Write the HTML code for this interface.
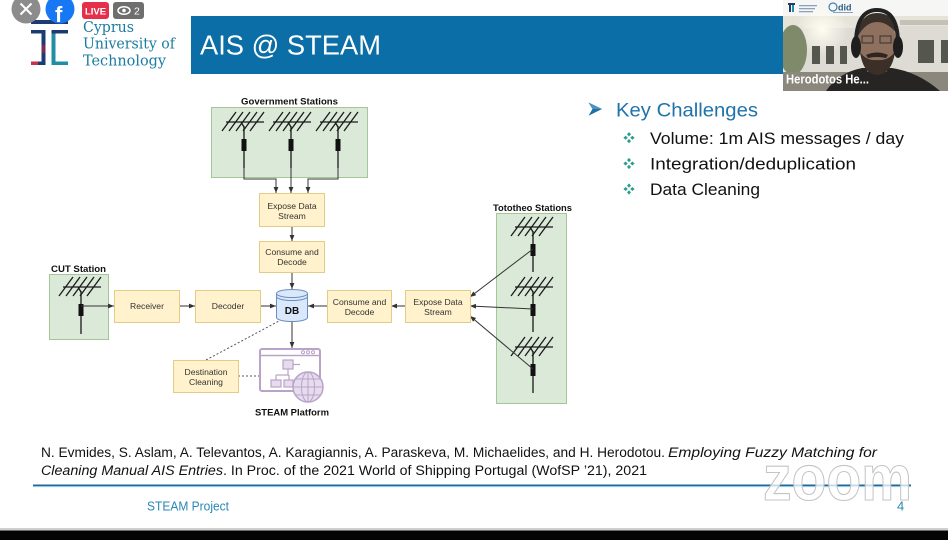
<!DOCTYPE html>
<html><head><meta charset="utf-8"><style>
html,body{margin:0;padding:0;background:#fff;}
body{width:948px;height:540px;overflow:hidden;}
svg{display:block;}
</style></head><body>
<svg width="948" height="540" viewBox="0 0 948 540" xmlns="http://www.w3.org/2000/svg" font-family="Liberation Sans, Arial, sans-serif">
<defs>
<marker id="ah" viewBox="0 0 10 10" refX="10" refY="5" markerWidth="6" markerHeight="6" markerUnits="userSpaceOnUse" orient="auto">
<path d="M0,1 L10,5 L0,9 z" fill="#333"/></marker>
<g id="ant">
<path d="M-18 0H20 M-22 9L-8 -10 M-15 9L-1 -10 M-8 9L6 -10 M-1 9L13 -10 M6 9L20 -10 M-3 0L0 5" stroke="#1a1a1a" stroke-width="1.3" fill="none"/>
<rect x="-2.5" y="17" width="5" height="12" fill="#111"/>
</g>
<g id="bul" fill="#2a9d8f">
<path d="M0,-5.6 L2,-3.4 L0,-1.2 L-2,-3.4z M0,5.6 L2,3.4 L0,1.2 L-2,3.4z M-5.6,0 L-3.4,-2 L-1.2,0 L-3.4,2z M5.6,0 L3.4,-2 L1.2,0 L3.4,2z"/>
</g>
<radialGradient id="sun" cx="0.5" cy="0.5" r="0.5"><stop offset="0" stop-color="#fffdf0"/><stop offset="1" stop-color="#fffdf0" stop-opacity="0"/></radialGradient>
<clipPath id="vclip"><rect x="783" y="0" width="165" height="91"/></clipPath>
</defs>

<!-- Logo -->
<g>
<rect x="31" y="20" width="37" height="4" fill="#1c3b73"/>
<rect x="31" y="30" width="14" height="3.5" fill="#1c3b73"/>
<rect x="41.5" y="30" width="4" height="35" fill="#1c3b73"/>
<rect x="31" y="61.5" width="14" height="3.5" fill="#c8324a"/>
<rect x="38" y="61.5" width="7" height="3.5" fill="#1c3b73"/>
<rect x="51.5" y="30" width="4" height="35" fill="#1f8fa6"/>
<rect x="51.5" y="30" width="16.5" height="3.5" fill="#1c3b73"/>
<rect x="51.5" y="61.5" width="16.5" height="3.5" fill="#1f8fa6"/>
<rect x="41.5" y="45" width="4" height="8" fill="#7a2b55"/>
</g>
<g font-family="DejaVu Serif, Liberation Serif, serif" fill="#1b7ba0" font-size="15">
<text x="83" y="32" textLength="51" lengthAdjust="spacingAndGlyphs">Cyprus</text>
<text x="83" y="48.5" textLength="92" lengthAdjust="spacingAndGlyphs">University of</text>
<text x="83" y="65.5" textLength="83" lengthAdjust="spacingAndGlyphs">Technology</text>
</g>

<!-- Title banner -->
<rect x="191" y="16" width="600" height="58" fill="#0b6ea6"/>
<text x="200" y="54.5" font-size="27.5" fill="#fff" textLength="181" lengthAdjust="spacingAndGlyphs">AIS @ STEAM</text>

<!-- Overlay icons -->
<circle cx="26" cy="9" r="14.5" fill="#8c8c8c"/>
<path d="M20.5 3.5 L31.5 14.5 M31.5 3.5 L20.5 14.5" stroke="#fff" stroke-width="2"/>
<circle cx="60" cy="9" r="14.5" fill="#1877f2"/>
<text x="55" y="22" font-size="22" font-weight="bold" fill="#fff">f</text>
<rect x="82" y="2" width="27" height="17" rx="3" fill="#e5304c"/>
<text x="95.5" y="14.5" font-size="9.5" font-weight="bold" fill="#fff" text-anchor="middle">LIVE</text>
<rect x="113" y="2" width="31" height="17" rx="3" fill="#6e6e6e"/>
<ellipse cx="124" cy="10.5" rx="6" ry="3.8" fill="none" stroke="#fff" stroke-width="1.5"/>
<circle cx="124" cy="10.5" r="1.8" fill="#fff"/>
<text x="134" y="14.5" font-size="10.5" fill="#fff">2</text>

<!-- Video -->
<g clip-path="url(#vclip)">
<rect x="783" y="0" width="165" height="91" fill="#e6e3d9"/>
<rect x="783" y="0" width="165" height="16" fill="#f6f6f4"/>
<rect x="800" y="26" width="148" height="48" fill="#dddbd4"/>
<path d="M800 28 L830 18 L860 28z" fill="#e8e6e0"/>
<rect x="900" y="20" width="48" height="5" fill="#c4c1b9"/>
<circle cx="822" cy="30" r="26" fill="url(#sun)"/>
<ellipse cx="793" cy="50" rx="14" ry="25" fill="#7f8a6a"/>
<rect x="812" y="46" width="8" height="18" fill="#55574f"/>
<rect x="826" y="46" width="8" height="18" fill="#55574f"/>
<rect x="840" y="46" width="7" height="18" fill="#55574f"/>
<rect x="918" y="40" width="16" height="23" fill="#55574f"/>
<rect x="941" y="40" width="8" height="23" fill="#55574f"/>
<rect x="783" y="72" width="165" height="19" fill="#8b877d"/>
<path d="M826 91 Q838 73 862 68 L892 68 Q918 72 940 91z" fill="#262523"/>
<rect x="867" y="58" width="20" height="14" fill="#7d6152"/>
<ellipse cx="877" cy="42" rx="19" ry="27" fill="#8f705e"/>
<path d="M858 36 Q860 13 877 13 Q895 13 897 34 Q888 22 877 22 Q866 22 858 36z" fill="#3a302a"/>
<path d="M860 52 Q863 74 877 75 Q892 74 895 52 Q888 61 877 60 Q866 61 860 52z" fill="#3b2f28"/>
<path d="M866 55 Q877 50 888 55 L886 58 Q877 56 868 58z" fill="#2e2520"/>
<rect x="862" y="36" width="11" height="7" fill="none" stroke="#333" stroke-width="1"/>
<rect x="880" y="36" width="11" height="7" fill="none" stroke="#333" stroke-width="1"/>
<path d="M856 48 Q855 10 877 10 Q899 10 898 48" fill="none" stroke="#222" stroke-width="4"/>
<ellipse cx="856" cy="47" rx="5" ry="11" fill="#1e1e1e"/>
<ellipse cx="898" cy="47" rx="5" ry="11" fill="#1e1e1e"/>
<rect x="788" y="3" width="7" height="2" fill="#1c3b73"/>
<rect x="789" y="5" width="2" height="7" fill="#1c3b73"/>
<rect x="792" y="5" width="2" height="7" fill="#1f8fa6"/>
<rect x="799" y="5" width="18" height="1.3" fill="#8aa3bd"/>
<rect x="799" y="8" width="16" height="1.3" fill="#8aa3bd"/>
<rect x="799" y="11" width="14" height="1.3" fill="#8aa3bd"/>
<circle cx="833" cy="7" r="4" fill="none" stroke="#3d7fb0" stroke-width="1.2"/>
<text x="838" y="10.5" font-size="9" font-weight="bold" fill="#2c5d8a">did</text>
<rect x="833" y="12" width="20" height="1" fill="#8aa3bd"/>
<text x="786" y="83.5" font-size="12.5" font-weight="bold" fill="#fff" textLength="83" lengthAdjust="spacingAndGlyphs">Herodotos He...</text>
</g>

<!-- Diagram: green containers -->
<rect x="211.5" y="107.5" width="156" height="70" fill="#dbe9d8" stroke="#a3c795" stroke-width="1"/>
<rect x="49.5" y="274.5" width="59" height="65" fill="#dbe9d8" stroke="#a3c795" stroke-width="1"/>
<rect x="496.5" y="213.5" width="70" height="190" fill="#dbe9d8" stroke="#a3c795" stroke-width="1"/>

<g font-size="9.5" font-weight="bold" fill="#111">
<text x="289.5" y="104.5" text-anchor="middle" textLength="97" lengthAdjust="spacingAndGlyphs">Government Stations</text>
<text x="51" y="272" textLength="55" lengthAdjust="spacingAndGlyphs">CUT Station</text>
<text x="493" y="211" textLength="79" lengthAdjust="spacingAndGlyphs">Tototheo Stations</text>
<text x="292" y="415.5" text-anchor="middle" textLength="74" lengthAdjust="spacingAndGlyphs">STEAM Platform</text>
</g>

<!-- Antennas -->
<use href="#ant" x="244" y="122"/>
<use href="#ant" x="291" y="122"/>
<use href="#ant" x="338" y="122"/>
<use href="#ant" x="81" y="287"/>
<use href="#ant" x="533" y="227"/>
<use href="#ant" x="533" y="287"/>
<use href="#ant" x="533" y="347"/>
<g stroke="#1a1a1a" stroke-width="1.3">
<path d="M244 126V139 M244 151V168 M291 126V139 M291 151V168 M338 126V139 M338 151V168"/>
<path d="M81 291V304 M81 316V334"/>
<path d="M533 231V244 M533 256V272 M533 291V304 M533 316V332 M533 351V364 M533 376V393"/>
</g>

<!-- Connectors -->
<g stroke="#333" stroke-width="1" fill="none" marker-end="url(#ah)">
<path d="M244 168V179H276V193"/>
<path d="M291 168V193"/>
<path d="M338 168V179H308V193"/>
<path d="M292 226V241"/>
<path d="M292 272V289"/>
<path d="M81 306H114"/>
<path d="M179 306H195"/>
<path d="M260 306H276"/>
<path d="M405 306H391"/>
<path d="M327 306H308"/>
<path d="M533 249L470 297"/>
<path d="M533 309L470 306"/>
<path d="M533 369L470 316"/>
<path d="M292 322V348"/>
</g>
<g stroke="#555" stroke-width="1" stroke-dasharray="2,2" fill="none">
<path d="M206 360L279 321"/>
<path d="M238 376H259"/>
</g>

<!-- Yellow boxes -->
<g fill="#fff2cc" stroke="#e3cc85" stroke-width="1">
<rect x="259.5" y="193.5" width="65" height="33"/>
<rect x="259.5" y="241.5" width="65" height="31"/>
<rect x="114.5" y="290.5" width="65" height="32"/>
<rect x="195.5" y="290.5" width="65" height="32"/>
<rect x="327.5" y="290.5" width="64" height="32"/>
<rect x="405.5" y="290.5" width="65" height="32"/>
<rect x="173.5" y="360.5" width="65" height="32"/>
</g>
<g font-size="8.6" fill="#333" text-anchor="middle">
<text x="292" y="209">Expose Data</text>
<text x="292" y="219">Stream</text>
<text x="292" y="255">Consume and</text>
<text x="292" y="265">Decode</text>
<text x="147" y="309">Receiver</text>
<text x="228" y="309">Decoder</text>
<text x="359.5" y="305">Consume and</text>
<text x="359.5" y="315">Decode</text>
<text x="438" y="305">Expose Data</text>
<text x="438" y="315">Stream</text>
<text x="206" y="375">Destination</text>
<text x="206" y="385">Cleaning</text>
</g>

<!-- DB -->
<path d="M276.5 293.5 V317.5 A15.5 4 0 0 0 307.5 317.5 V293.5" fill="#dae8fc" stroke="#6c8ebf"/>
<ellipse cx="292" cy="293.5" rx="15.5" ry="4" fill="#dae8fc" stroke="#6c8ebf"/>
<path d="M276.5 296.5 A15.5 4 0 0 0 307.5 296.5" fill="none" stroke="#6c8ebf"/>
<text x="292" y="314" font-size="10" font-weight="bold" fill="#111" text-anchor="middle">DB</text>

<!-- STEAM platform icon -->
<rect x="260" y="349" width="60" height="42" rx="2" fill="#fff" stroke="#b9a3c9" stroke-width="2"/>
<path d="M260 355.5H320" stroke="#b9a3c9" stroke-width="1.5"/>
<circle cx="303" cy="352.3" r="1.5" fill="none" stroke="#b9a3c9"/>
<circle cx="308" cy="352.3" r="1.5" fill="none" stroke="#b9a3c9"/>
<circle cx="313" cy="352.3" r="1.5" fill="none" stroke="#b9a3c9"/>
<g fill="#e6dced" stroke="#b9a3c9" stroke-width="1.2">
<rect x="283" y="360" width="10" height="9"/>
<rect x="271" y="380" width="10" height="7"/>
<rect x="284" y="380" width="9" height="7"/>
</g>
<path d="M288 369V375 M276 375H289 M276 375V380 M289 375V380 M293 364.5H300" stroke="#b9a3c9" stroke-width="1.2" fill="none"/>
<circle cx="308" cy="387" r="15" fill="#e6dced" stroke="#b9a3c9" stroke-width="1.5"/>
<g stroke="#b9a3c9" stroke-width="1" fill="none">
<ellipse cx="308" cy="387" rx="6.5" ry="15"/>
<path d="M308 372V402 M293 387H323 M295.5 379H320.5 M295.5 395H320.5"/>
</g>

<!-- Key Challenges -->
<path d="M588.5 102.5 L602 109 L588.5 115.8 L592.5 109z" fill="#1f6fa3"/>
<path d="M588.5 102.5 L602 109 L592.5 109z" fill="#4a93c4"/>
<text x="616" y="116.7" font-size="19.5" fill="#1f73ab" textLength="142" lengthAdjust="spacingAndGlyphs">Key Challenges</text>
<use href="#bul" x="629" y="137.7"/>
<use href="#bul" x="629" y="163.5"/>
<use href="#bul" x="629" y="189"/>
<g font-size="16.5" fill="#111">
<text x="650" y="144" textLength="254" lengthAdjust="spacingAndGlyphs">Volume: 1m AIS messages / day</text>
<text x="650" y="169.5" textLength="206" lengthAdjust="spacingAndGlyphs">Integration/deduplication</text>
<text x="650" y="195" textLength="110" lengthAdjust="spacingAndGlyphs">Data Cleaning</text>
</g>

<!-- Citation -->
<g font-size="13.5" fill="#111">
<text x="41" y="457" textLength="624" lengthAdjust="spacingAndGlyphs">N. Evmides, S. Aslam, A. Televantos, A. Karagiannis, A. Paraskeva, M. Michaelides, and H. Herodotou.</text>
<text x="668" y="457" font-style="italic" textLength="209" lengthAdjust="spacingAndGlyphs">Employing Fuzzy Matching for</text>
<text x="41" y="475" font-style="italic" textLength="182" lengthAdjust="spacingAndGlyphs">Cleaning Manual AIS Entries</text>
<text x="223" y="475" textLength="424" lengthAdjust="spacingAndGlyphs">. In Proc. of the 2021 World of Shipping Portugal (WofSP ’21), 2021</text>
</g>

<!-- Footer line -->
<rect x="33" y="484.5" width="878" height="1.6" fill="#1f6a9a"/>
<rect x="33" y="486.1" width="878" height="1" fill="#8cc4e6"/>

<!-- Zoom watermark -->
<text x="763" y="500" font-size="64" font-weight="bold" fill="#fff" fill-opacity="0.75" stroke="#c4c4c4" stroke-width="1.1" textLength="149" lengthAdjust="spacingAndGlyphs">zoom</text>

<text x="147" y="510.5" font-size="13" fill="#2a86b5" textLength="82" lengthAdjust="spacingAndGlyphs">STEAM Project</text>
<text x="897" y="510.5" font-size="13" fill="#2a86b5">4</text>

<!-- Bottom -->
<rect x="0" y="528" width="948" height="2.5" fill="#cfcfcf"/>
<rect x="0" y="530.5" width="948" height="9.5" fill="#050505"/>
</svg>
</body></html>
